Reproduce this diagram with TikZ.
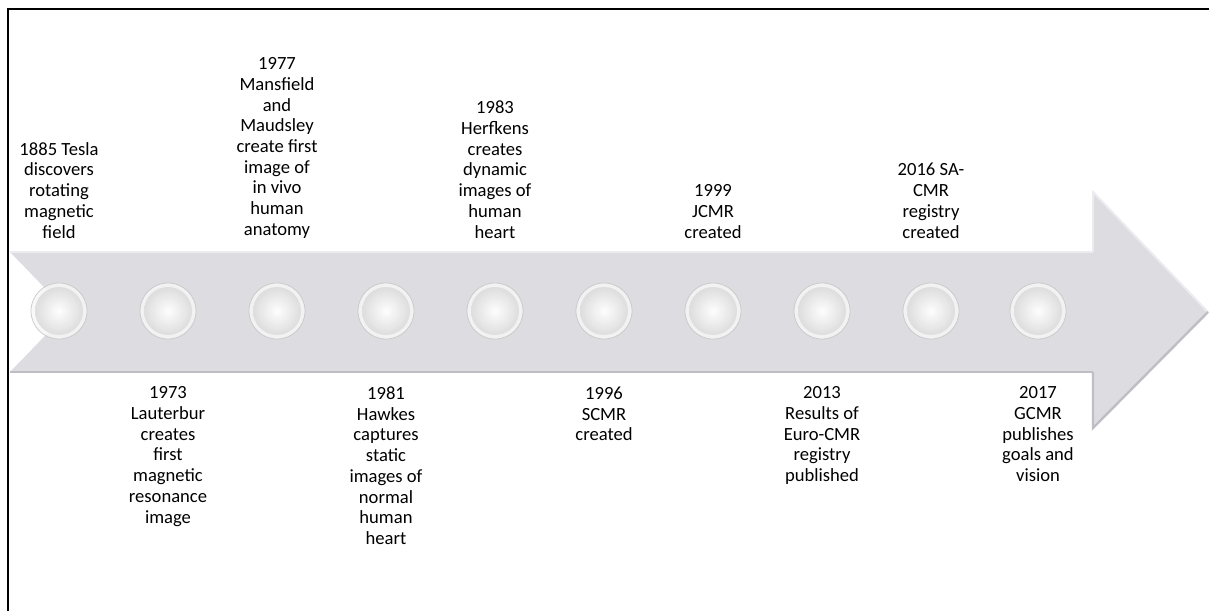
\documentclass[tikz,border=0pt]{standalone}
\usepackage{fontspec}
\setmainfont{Carlito}
\usepackage{xcolor}
\usepackage{tikz}
\usetikzlibrary{positioning,calc}

\definecolor{bandgray}{RGB}{220,220,225}
\definecolor{bandlight}{RGB}{236,236,240}
\definecolor{banddark}{RGB}{190,190,196}

\begin{document}
\begin{tikzpicture}[
  x=0.5pt, y=-0.5pt,
  dot/.style={circle, draw=gray!45, fill=gray!6, minimum size=28pt, inner sep=0pt},
  ball/.style={circle, inner sep=0pt, minimum size=24pt, shading=radial, inner color=white, outer color=gray!28},
  event/.style={align=center, inner sep=0pt, font=\fontsize{9.3}{10.35}\selectfont}
]
\useasboundingbox (0,0) rectangle (1209,611);

% frame (left and top only)
\draw[line width=1.3pt] (8,611) -- (8,9) -- (1209,9);

% arrow band
\fill[bandgray] (10,252) -- (1093,252) -- (1093,192) -- (1208,312) -- (1093,428) -- (1093,372)
  -- (10,372) -- (68,312) -- cycle;
\draw[bandlight, line width=1pt] (10,252) -- (1093,252);
\draw[bandlight, line width=1pt] (1093,252) -- (1093,192) -- (1208,312);
\draw[banddark, line width=1.2pt] (10,372) -- (1093,372);
\draw[banddark, line width=1.2pt] (1093,372) -- (1093,428) -- (1208,312);

% milestones
\foreach \i/\x in {1/59,2/168,3/277,4/386,5/495,6/604,7/713,8/822,9/931,10/1038} {
  \node[dot, opacity=0.85] (c\i) at (\x,311) {};
  \node[ball, opacity=0.9] at (c\i) {};
}

\node[event, above=22pt of c1] (t1) {1885 Tesla\\discovers\\rotating\\magnetic\\field};
\node[event, below=23.5pt of c2] (t2) {1973\\Lauterbur\\creates\\first\\magnetic\\resonance\\image};
\node[event, above=22pt of c3] (t3) {1977\\Mansfield\\and\\Maudsley\\create first\\image of\\in vivo\\human\\anatomy};
\node[event, below=23.5pt of c4] (t4) {1981\\Hawkes\\captures\\static\\images of\\normal\\human\\heart};
\node[event, above=22pt of c5] (t5) {1983\\Herfkens\\creates\\dynamic\\images of\\human\\heart};
\node[event, below=23.5pt of c6] (t6) {1996\\SCMR\\created};
\node[event, above=22pt of c7] (t7) {1999\\JCMR\\created};
\node[event, below=23.5pt of c8] (t8) {2013\\Results of\\Euro-CMR\\registry\\published};
\node[event, above=22pt of c9] (t9) {2016 SA-\\CMR\\registry\\created};
\node[event, below=23.5pt of c10] (t10) {2017\\GCMR\\publishes\\goals and\\vision};

\end{tikzpicture}
\end{document}
